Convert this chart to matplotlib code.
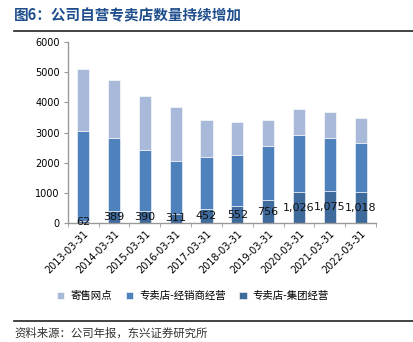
import numpy as np
import matplotlib
matplotlib.use("Agg")
import matplotlib.pyplot as plt

plt.rcParams["font.family"] = ["Noto Sans CJK SC", "DejaVu Sans"]

dates = ["2013-03-31", "2014-03-31", "2015-03-31", "2016-03-31", "2017-03-31",
         "2018-03-31", "2019-03-31", "2020-03-31", "2021-03-31", "2022-03-31"]
group_own = [62, 389, 390, 311, 452, 552, 756, 1026, 1075, 1018]
dealer = [2998, 2441, 2040, 1759, 1748, 1718, 1804, 1884, 1755, 1642]
consign = [2050, 1920, 1770, 1770, 1200, 1080, 870, 880, 840, 810]
group_labels = ["62", "389", "390", "311", "452", "552", "756", "1,026", "1,075", "1,018"]

C_LIGHT, C_MID, C_DARK = "#A9B9D9", "#4F81BD", "#3F6A9C"

fig = plt.figure(figsize=(4.14, 3.42), dpi=100)
ax = fig.add_axes([0.164, 0.348, 0.744, 0.529])

x = np.arange(len(dates))
w = 0.39
g = np.array(group_own); d = np.array(dealer); c = np.array(consign)
ax.bar(x, g, w, color=C_DARK, edgecolor="white", linewidth=0.4, label="专卖店-集团经营")
ax.bar(x, d, w, bottom=g, color=C_MID, edgecolor="white", linewidth=0.4, label="专卖店-经销商经营")
ax.bar(x, c, w, bottom=g + d, color=C_LIGHT, edgecolor="white", linewidth=0.4, label="寄售网点")
for xi, gi, lab in zip(x, g, group_labels):
    ax.text(xi, gi / 2, lab, ha="center", va="center", fontsize=8, color="#111111",
            family="DejaVu Sans")

ax.set_xlim(-0.5, len(dates) - 0.5)
ax.set_ylim(0, 6000)
ax.set_yticks(range(0, 6001, 1000))
ax.set_yticklabels([str(v) for v in range(0, 6001, 1000)], family="DejaVu Sans", fontsize=7)
ax.set_xticks(x)
ax.set_xticklabels(dates, rotation=45, ha="right", rotation_mode="anchor",
                   family="DejaVu Sans", fontsize=7)
ax.set_xticks(np.arange(-0.5, len(dates), 1), minor=True)
ax.tick_params(axis="x", which="major", length=0, pad=4)
ax.tick_params(axis="x", which="minor", length=3, color="#999999")
ax.tick_params(axis="y", length=3, color="#999999", pad=3)
for s in ("top", "right"):
    ax.spines[s].set_visible(False)
for s in ("left", "bottom"):
    ax.spines[s].set_color("#999999")
    ax.spines[s].set_linewidth(1.0)

h, l = ax.get_legend_handles_labels()
fig.legend(h[::-1], l[::-1], loc="center", bbox_to_anchor=(193 / 414, 1 - 296 / 342), ncol=3,
           frameon=False, fontsize=7.5, handlelength=0.7, handleheight=0.7,
           handletextpad=0.6, columnspacing=1.3)

fig.text(14 / 414, 1 - 15 / 342, "图6：公司自营专卖店数量持续增加", fontsize=10.5,
         fontweight="bold", color="#1F4E8C", va="center", ha="left")
fig.add_artist(plt.Line2D([14 / 414, 1], [1 - 31 / 342] * 2, color="#222222", lw=1.2))
fig.add_artist(plt.Line2D([14 / 414, 1], [1 - 321 / 342] * 2, color="#222222", lw=1.2))
fig.text(14 / 414, 1 - 333 / 342, "资料来源：公司年报，东兴证券研究所", fontsize=8.2,
         color="#333333", va="center", ha="left", style="italic")

fig.savefig("out.png", dpi=100)
